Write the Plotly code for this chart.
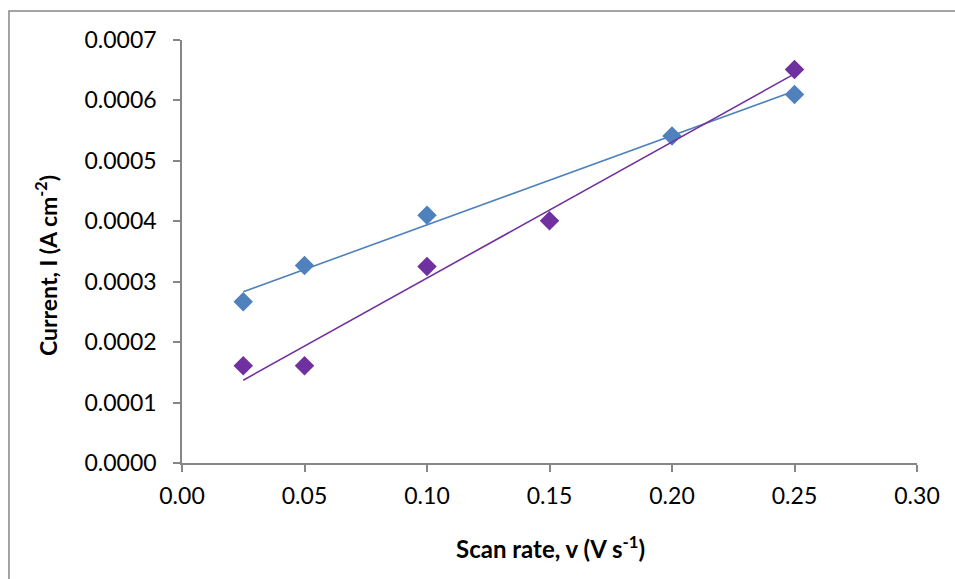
import numpy as np
import plotly.graph_objects as go

# Scan rate (V s^-1) and peak current density (A cm^-2) for two series
scan_rate_a = [0.025, 0.05, 0.10, 0.20, 0.25]
current_a = [0.000267, 0.000327, 0.000410, 0.000541, 0.000610]

scan_rate_b = [0.025, 0.05, 0.10, 0.15, 0.25]
current_b = [0.000161, 0.000161, 0.000325, 0.000401, 0.000651]

x_ticks = [0.00, 0.05, 0.10, 0.15, 0.20, 0.25, 0.30]
y_ticks = [0.0000, 0.0001, 0.0002, 0.0003, 0.0004, 0.0005, 0.0006, 0.0007]

BLUE = "#4F81BD"
PURPLE = "#7030A0"
GREY = "#868686"
FONT = "Lato"


def linear_fit(x, y):
    """Least-squares line spanning the data's x range."""
    slope, intercept = np.polyfit(x, y, 1)
    xs = np.array([min(x), max(x)])
    return xs, slope * xs + intercept


fig = go.Figure()

for xs, ys, color in [(scan_rate_a, current_a, BLUE), (scan_rate_b, current_b, PURPLE)]:
    fx, fy = linear_fit(xs, ys)
    fig.add_trace(go.Scatter(x=fx, y=fy, mode="lines",
                             line=dict(color=color, width=1.6),
                             showlegend=False, hoverinfo="skip"))
    fig.add_trace(go.Scatter(x=xs, y=ys, mode="markers",
                             marker=dict(symbol="diamond", size=15, color=color),
                             showlegend=False))

axis_common = dict(showgrid=False, zeroline=False, showline=True,
                   linecolor=GREY, linewidth=1.5, ticks="outside",
                   tickcolor=GREY, tickwidth=1.5, ticklen=7,
                   tickfont=dict(family=FONT, size=23, color="black"))

fig.update_xaxes(range=[0, 0.30], tickvals=x_ticks,
                 ticktext=[f"{v:.2f}" for v in x_ticks],
                 ticklabelstandoff=5, **axis_common)
fig.update_yaxes(range=[0, 0.0007], tickvals=y_ticks,
                 ticktext=[f"{v:.4f}" for v in y_ticks],
                 ticklabelstandoff=12, **axis_common)

# Axis titles
fig.add_annotation(text="<b>Scan rate, v (V s<sup>-1</sup>)</b>",
                   xref="paper", yref="paper", x=0.502, y=-0.1986,
                   xanchor="center", yanchor="middle", showarrow=False,
                   font=dict(family=FONT, size=24, color="black"))
fig.add_annotation(text="<b>Current, I (A cm<sup>-2</sup>)</b>",
                   xref="paper", yref="paper", x=-0.185, y=0.4657,
                   xanchor="center", yanchor="middle", textangle=-90,
                   showarrow=False,
                   font=dict(family=FONT, size=23, color="black"))

# Chart-area border
fig.add_shape(type="rect", xref="paper", yref="paper",
              x0=-0.2354, x1=1.2, y0=-0.6, y1=1.0686,
              line=dict(color=GREY, width=1.5), layer="below")

fig.update_layout(width=955, height=579,
                  margin=dict(l=182, r=38, t=40, b=116),
                  paper_bgcolor="white", plot_bgcolor="white",
                  font=dict(family=FONT, color="black"))

fig.write_html("out.html")
